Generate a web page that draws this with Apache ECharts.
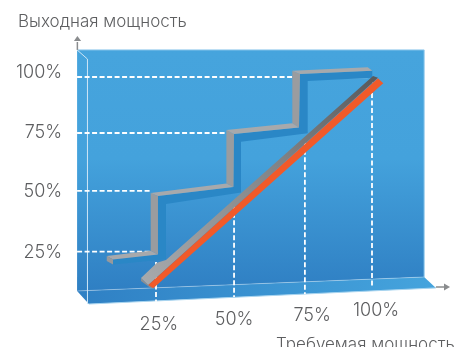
<!DOCTYPE html>
<html><head><meta charset="utf-8">
<style>html,body{margin:0;padding:0;background:#fff}#c{width:462px;height:347px;overflow:hidden}</style>
<script src="https://cdn.jsdelivr.net/npm/echarts@6/dist/echarts.min.js"></script>
</head><body><div id="c"></div>
<script>
// Values in percent of demanded power (x) and output power (y)
const xTickLabels = ['25%','50%','75%','100%'];
const yTickLabels = ['25%','50%','75%','100%'];
const xLabelX = [26, 52.1, 79.2, 101.4];
const xLabelY = [-6.3, -4.1, -2.4, 0.1];
const yLabelX = [-7.6, -7.6, -7.6, -7.6];
const yLabelY = [24.6, 50.7, 76, 102.1];

const wallX = [-2.4, 118.1, 118.1, -2.4];
const wallY = [111.6, 111.6, 14.3, 8.3];
const floorX = [-2.4, 118.1, 122.2, 1.7];
const floorY = [8.3, 14.3, 9.6, 2.7];

// horizontal guides: end x, level y; vertical guides: x, top y, bottom y
const hGuideEnd = [23.3, 23.3, 49.3, 72.3];
const hGuideY = [25.2, 51.2, 76, 100];
const vGuideX = [25, 52.1, 76.7, 100];
const vGuideTop = [20.7, 45, 72, 99.6];
const vGuideEnd = [3.7, 5.7, 7, 10];
const hiddenGuideX = [77.7, 98.5];
const hiddenGuideY = [99.7, 99.7];

// staircase (actual power output)
const stairUnderX = [10.07,25.69,25.69,51.9,52.08,74.65,75,100.1,100.1,77.67,77.67,54.51,54.51,28.47,28.47,10.07];
const stairUnderY = [21.79,23.93,49,52.86,75.57,78.36,101.3,102.71,99.71,98.3,75.88,72.28,50.5,45.58,21.87,19.64];
const stairRiserX = [[23.16,25.69,25.69,23.16],[49.44,52.08,51.9,49.44],[72.33,75,74.65,72.33]];
const stairRiserY = [[50.29,49,23.93,25.56],[77.29,75.57,52.86,54.36],[102.71,101.3,78.36,80.17]];
const stairTreadX = [[7.9,23.16,25.69,10.07],[23.16,49.44,51.9,25.69],[49.44,72.33,74.65,52.08],[72.33,98.51,100.1,75]];
const stairTreadY = [[23.29,25.56,23.93,21.79],[50.29,54.36,52.86,49],[77.29,80.17,78.36,75.57],[102.71,104.17,102.71,101.3]];
const stubX = [7.9,10.07,10.07,7.9];
const stubY = [23.29,21.79,19.64,21.1];

// demand diagonal
const rampTopX = [19.79,25.35,28.47,100.35,102.08,22.32];
const rampTopY = [13.86,20.42,21.57,100.44,99.71,10.86];
const rampEndX = [19.79,22.32,24.06,23.26,19.79];
const rampEndY = [13.86,10.86,9.44,9.44,12.57];
const orangeX = [22.32,102.08,103.92,24.06];
const orangeY = [10.86,99.46,97.31,9.44];

// light edges
const edgeLeftX = [-2.4,1.2,1.2];
const edgeLeftY = [111.6,107.7,2.7];
const edgeTopX = [-2.4,118.1,118.1];
const edgeTopY = [111.6,111.6,14.3];
const edgeBackX = [-2.4,118.1];
const edgeBackY = [8.3,14.3];
const edgeFrontX = [1.7,122.2];
const edgeFrontY = [2.7,9.6];

// axis arrows
const arrowYX = [-2.3,-2.3];
const arrowYY = [111.6,115];
const arrowYHeadX = [-3.5,-2.3,-1];
const arrowYHeadY = [115.4,117.6,115.4];
const arrowXX = [122.2,125];
const arrowXY = [10,10];
const arrowXHeadX = [125,127.1,125];
const arrowXHeadY = [11.5,10,8.5];

const zip = (a, b) => a.map((v, i) => [v, b[i]]);
const G = echarts.graphic.LinearGradient;
const wallFill = new G(0,0,0,1,[{offset:0,color:'#46a4dd'},{offset:0.45,color:'#44a2dc'},{offset:1,color:'#2f7fc3'}]);
const floorFill = new G(0,0,1,0,[{offset:0,color:'#2f80c4'},{offset:1,color:'#45a4dd'}]);
const rampFill = new G(0,1,1,0,[{offset:0,color:'#a8aaad'},{offset:0.6,color:'#808285'},{offset:1,color:'#58595b'}]);
const TEXT = '#5d5e60';
const FONT = '300 18px Inter';

const layers = [];
const poly = (x,y,fill) => layers.push({t:'polygon',pts:zip(x,y),fill});
const line = (x,y,stroke,width,dash) => layers.push({t:'polyline',pts:zip(x,y),stroke,width,dash});
const text = (x,y,s,align) => layers.push({t:'text',x,y,s,align});

poly(wallX,wallY,wallFill);
poly(floorX,floorY,floorFill);
line(edgeTopX,edgeTopY,'#8fc8ec',1);
line(edgeBackX,edgeBackY,'rgba(255,255,255,0.3)',1);
line(edgeFrontX,edgeFrontY,'#a9d5f0',1);
line(edgeLeftX,edgeLeftY,'#cfe6f6',1);
hGuideY.forEach((y,i)=>line([wallX[0],hGuideEnd[i]],[y,y],'#ffffff',1.8,[5,2.5]));
vGuideX.forEach((x,i)=>line([x,x],[vGuideTop[i],vGuideEnd[i]],'#ffffff',1.8,[5,2.5]));
line(hiddenGuideX,hiddenGuideY,'rgba(255,255,255,0.6)',1);
poly(stairUnderX,stairUnderY,'#2a87c6');
stairRiserX.forEach((x,i)=>poly(x,stairRiserY[i],'#9a9c9f'));
stairTreadX.forEach((x,i)=>poly(x,stairTreadY[i],'#a7a9ac'));
poly(stubX,stubY,'#97999c');
poly(rampEndX,rampEndY,'#8c8e91');
poly(rampTopX,rampTopY,rampFill);
poly(orangeX,orangeY,'#f15a29');
line(arrowYX,arrowYY,'#8a8c8e',1.5);
poly(arrowYHeadX,arrowYHeadY,'#8a8c8e');
line(arrowXX,arrowXY,'#8a8c8e',1.5);
poly(arrowXHeadX,arrowXHeadY,'#8a8c8e');
xTickLabels.forEach((s,i)=>text(xLabelX[i],xLabelY[i],s,'center'));
yTickLabels.forEach((s,i)=>text(yLabelX[i],yLabelY[i],s,'right'));

function renderItem(params, api) {
  const l = layers[params.dataIndex];
  if (l.t === 'text') {
    const p = api.coord([l.x, l.y]);
    return {type:'text',silent:true,style:{x:p[0],y:p[1],text:l.s,align:l.align,verticalAlign:'middle',font:FONT,fill:TEXT}};
  }
  const points = l.pts.map(p => api.coord(p));
  if (l.t === 'polygon') return {type:'polygon',silent:true,shape:{points},style:{fill:l.fill}};
  return {type:'polyline',silent:true,shape:{points},style:{fill:'none',stroke:l.stroke,lineWidth:l.width,lineDash:l.dash||null}};
}

const chart = echarts.init(document.getElementById('c'), null, {renderer:'canvas'});
chart.setOption({
  animation:false,
  backgroundColor:'#ffffff',
  title:[
    {text:'Выходная мощность',left:13,top:8,textStyle:{fontFamily:'Inter',fontWeight:300,fontSize:17,color:TEXT}},
    {text:'Требуемая мощность',left:271,top:331,textStyle:{fontFamily:'Inter',fontWeight:300,fontSize:17,color:TEXT}}
  ],
  grid:{left:55.2,width:403.2,top:7,height:326.67,containLabel:false},
  xAxis:{type:'value',min:-10,max:130,show:false},
  yAxis:{type:'value',min:-10,max:130,show:false},
  series:[{type:'custom',coordinateSystem:'cartesian2d',clip:false,silent:true,
    data:layers.map((_, i)=>[i,0]),encode:{x:0,y:1},renderItem}]
});
</script></body></html>
